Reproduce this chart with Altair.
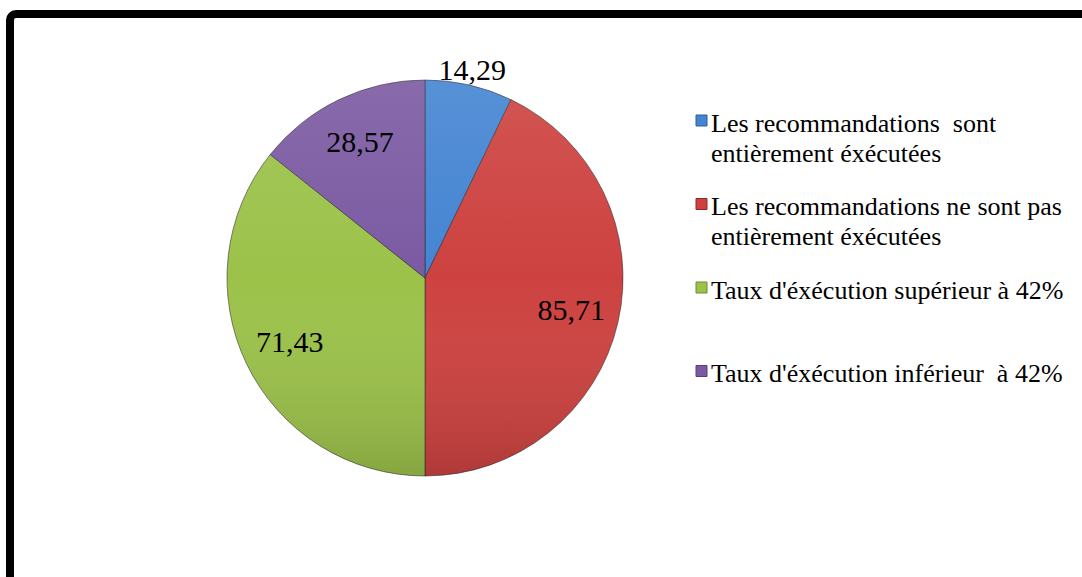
import altair as alt
import pandas as pd

categories = [
    "Les recommandations \u00a0sont\nentièrement éxécutées",
    "Les recommandations ne sont pas\nentièrement éxécutées",
    "Taux d'éxécution supérieur à 42%",
    "Taux d'éxécution inférieur \u00a0à 42%",
]
values = [14.29, 85.71, 71.43, 28.57]
colors = ["#4484D2", "#CD4240", "#9CC24A", "#7B5AA2"]
strokes = ["#2F5E96", "#8E2B29", "#6E8A31", "#56407A"]

df = pd.DataFrame({
    "cat": categories,
    "value": values,
    "idx": list(range(len(categories))),
})

FONT = "Liberation Serif"
CX, CY, R = 425, 278, 198

color_scale = alt.Scale(domain=categories, range=colors)

pie = alt.Chart(df).mark_arc(
    outerRadius=R, stroke="#2a2a2a", strokeWidth=0.8, strokeOpacity=0.7
).encode(
    theta=alt.Theta("value:Q", stack=True),
    order=alt.Order("idx:Q"),
    color=alt.Color("cat:N", scale=color_scale, legend=None),
    x=alt.value(CX),
    y=alt.value(CY),
)

shade = alt.Chart(df).transform_filter("datum.idx == 0").mark_arc(
    outerRadius=R, theta=0, theta2=6.2832,
    fill=alt.LinearGradient(
        gradient="linear", x1=0, y1=0, x2=0, y2=1,
        stops=[
            alt.GradientStop(offset=0, color="rgba(255,255,255,0.10)"),
            alt.GradientStop(offset=0.5, color="rgba(255,255,255,0.0)"),
            alt.GradientStop(offset=1, color="rgba(0,0,0,0.14)"),
        ],
    ),
).encode(x=alt.value(CX), y=alt.value(CY))

labels = alt.Chart(df).transform_window(
    cum="sum(value)", sort=[alt.SortField("idx", order="ascending")]
).transform_calculate(
    mid="datum.cum - datum.value / 2",
    lab="replace(format(datum.value, '.2f'), '.', ',')",
    lr="datum.idx == 0 ? 212 : 150",
).mark_text(font=FONT, fontSize=30, color="black", baseline="middle", align="center").encode(
    theta=alt.Theta("mid:Q", stack=False),
    text="lab:N",
    radius=alt.Radius("lr:Q", scale=None),
    x=alt.value(CX),
    y=alt.value(CY),
)

leg_y = alt.Y("cat:N", scale=alt.Scale(type="point", domain=categories, range=[120.5, 371], padding=0), axis=None)

leg_sym = alt.Chart(df).mark_square(size=121, opacity=1, strokeWidth=1).encode(
    x=alt.value(701.5),
    y=leg_y,
    color=alt.Color("cat:N", scale=color_scale, legend=None),
    stroke=alt.Stroke("cat:N", scale=alt.Scale(domain=categories, range=strokes), legend=None),
)

leg_txt = alt.Chart(df).mark_text(
    font=FONT, fontSize=26, color="black", align="left", baseline="alphabetic",
    dy=11, lineBreak="\n", lineHeight=30,
).encode(
    x=alt.value(711),
    y=leg_y,
    text="cat:N",
)

frame = alt.Chart(df).transform_filter("datum.idx == 0").mark_rect(
    filled=False, stroke="black", strokeWidth=8, cornerRadius=6, clip=True
).encode(
    x=alt.value(10), x2=alt.value(1300), y=alt.value(14), y2=alt.value(900)
)

chart = alt.layer(pie, shade, labels, leg_sym, leg_txt, frame).properties(
    width=1082, height=577, padding=0, autosize=alt.AutoSizeParams(type="none"),
    background="white",
).configure_view(stroke=None).configure_text(font=FONT)

chart.save("out.html", embed_options={"renderer": "svg", "actions": False})
